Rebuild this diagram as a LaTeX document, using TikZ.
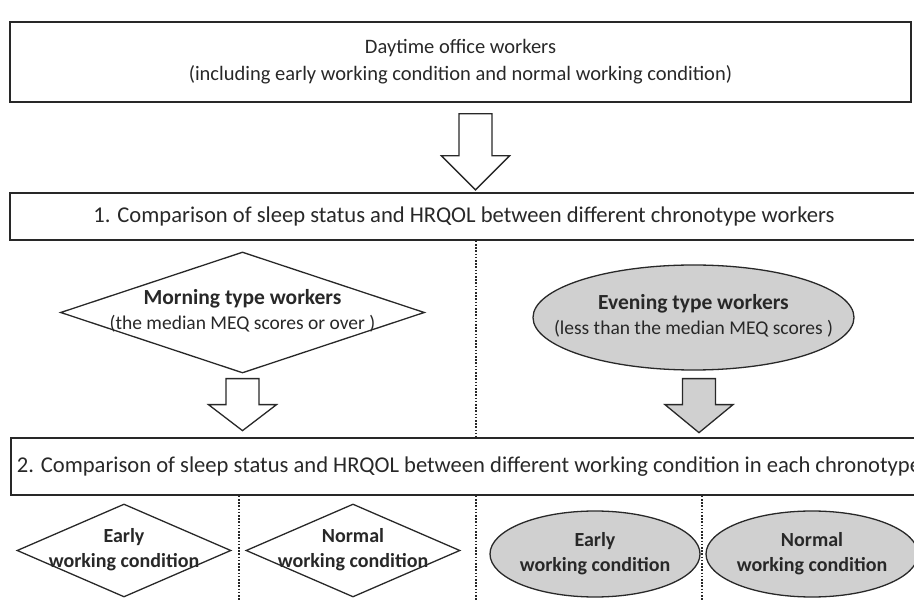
\documentclass[tikz,border=0pt]{standalone}
\usepackage{fontspec}
\setmainfont{Carlito}
\usetikzlibrary{shapes.geometric,calc}

\definecolor{shade}{RGB}{208,208,208}
\definecolor{ink}{RGB}{40,40,40}

% two centred lines that may stick out of their shape
\newcommand{\shapetext}[2]{\makebox[0pt]{\begin{tabular}{@{}c@{}}#1\\#2\end{tabular}}}
\newcommand{\head}[1]{{\fontsize{21.5}{25}\selectfont\bfseries #1}}
\newcommand{\note}[1]{{\fontsize{19.5}{25}\selectfont #1}}

\tikzset{
  pics/downarrow/.style 2 args={code={
    \draw[pic actions] (-16.5,0) -- (16.5,0) -- (16.5,#1) -- (34,#1)
      -- (0,#2) -- (-34,#1) -- (-16.5,#1) -- cycle;
  }}
}

\begin{document}
\begin{tikzpicture}[x=1pt,y=-1pt,
  every node/.style={font=\fontsize{20}{25}\selectfont, text=ink},
  box/.style={draw=ink, line width=1.7pt, inner sep=4pt},
  big/.style={font=\fontsize{22.6}{27}\selectfont},
  morn/.style={diamond, draw=ink, line width=1.3pt, inner sep=0pt, fill=white},
  even/.style={ellipse, draw=ink, line width=1.3pt, inner sep=0pt, fill=shade},
  sep/.style={draw=ink, line width=2.2pt, dash pattern=on 1.6pt off 1.6pt},
  hollow/.style={draw=ink, line width=1.3pt, fill=white, line join=miter},
  greyed/.style={draw=ink, line width=1.3pt, fill=shade, line join=miter}]
  \useasboundingbox (0,0) rectangle (914,601);

  \coordinate (split) at (476,0);
  \coordinate (lsplit) at (239,0);
  \coordinate (rsplit) at (702,0);
  \coordinate (floor) at (0,601);

  % boxes
  \node[box, font=\fontsize{20.5}{27}\selectfont, minimum width=901, minimum height=80,
    align=center] (top) at (460.5,62)
    {Daytime office workers\\(including early working condition and normal working condition)};
  \node[box, big, minimum width=908, minimum height=47] (cmp1) at (464,216.5)
    {1. Comparison of sleep status and HRQOL between different chronotype workers};
  \node[box, big, minimum width=912, minimum height=57, anchor=west, inner sep=6pt] (cmp2) at (10,466.5)
    {2. Comparison of sleep status and HRQOL between different working condition in each chronotype};

  % chronotypes
  \node[morn, minimum width=364, minimum height=121] (morning) at (242.5,312.5)
    {\shapetext{\head{Morning type workers}}{\note{(the median MEQ scores or over )}}};
  \node[even, minimum width=321, minimum height=105] (evening) at (693.5,317.5)
    {\shapetext{\head{Evening type workers}}{\note{(less than the median MEQ scores )}}};

  % working conditions
  \node[morn, minimum width=214, minimum height=93] (me) at (124,550.5)
    {\shapetext{\textbf{Early}}{\textbf{working condition}}};
  \node[morn, minimum width=214, minimum height=93] (mn) at (353,550.5)
    {\shapetext{\textbf{Normal}}{\textbf{working condition}}};
  \node[even, minimum width=210, minimum height=86] (ee) at (595,554)
    {\shapetext{\textbf{Early}}{\textbf{working condition}}};
  \node[even, minimum width=212, minimum height=86] (en) at (812,554)
    {\shapetext{\textbf{Normal}}{\textbf{working condition}}};

  % block arrows
  \path ($(top.south)+(15,11)$) pic[hollow] {downarrow={42}{76}};
  \path ($(morning.south)+(0,5)$) pic[hollow] {downarrow={26}{52}};
  \path ($(evening.south)+(5.5,8)$) pic[greyed] {downarrow={26}{54}};

  % dotted separators
  \draw[sep] (cmp1.south -| split) -- (cmp2.north -| split);
  \draw[sep] (cmp2.south -| split) -- (floor -| split);
  \draw[sep] (cmp2.south -| lsplit) -- (floor -| lsplit);
  \draw[sep] (cmp2.south -| rsplit) -- (floor -| rsplit);
\end{tikzpicture}
\end{document}
